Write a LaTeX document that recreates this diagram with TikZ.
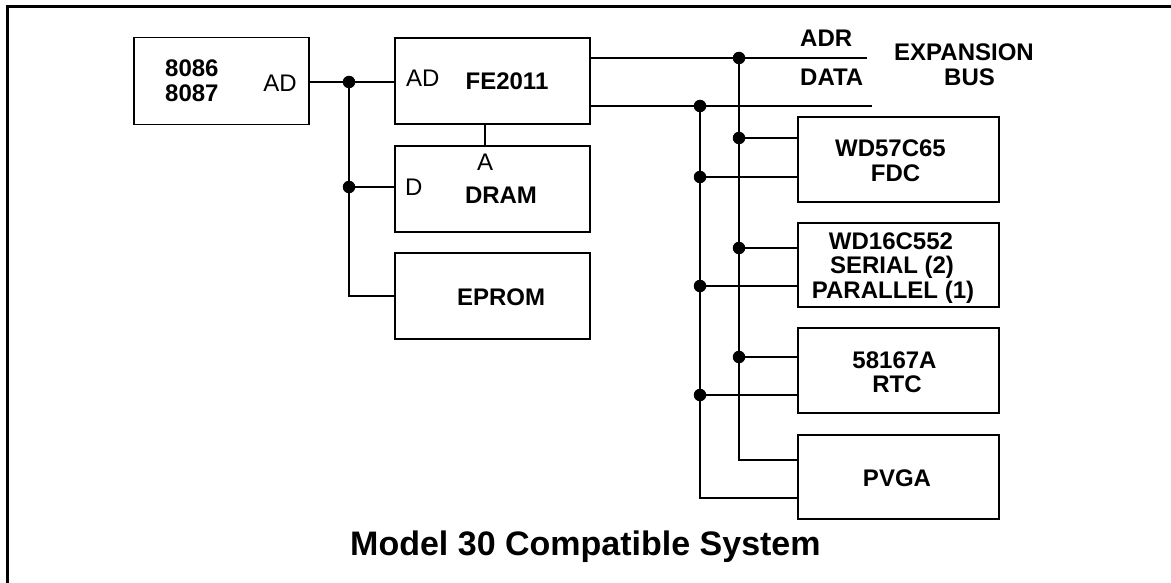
\documentclass[tikz,border=0pt]{standalone}
\usepackage{fontspec}
\setmainfont{Liberation Sans}
\begin{document}
\begin{tikzpicture}[x=1pt,y=-1pt,
  boxnode/.style={draw, line width=1.7pt, inner sep=0pt, rectangle},
  lbl/.style={inner sep=0pt, anchor=base, font=\fontsize{24}{24}\selectfont\bfseries},
  pin/.style={inner sep=0pt, font=\fontsize{24}{24}\selectfont},
  wire/.style={line width=1.5pt},
  dot/.style={circle, fill, inner sep=0pt, minimum size=12.5pt},
  frame/.style={line width=3pt}]
\useasboundingbox (0,0) rectangle (1171,583);
% outer frame (top and left only)
\draw[frame] (7,583) -- (7,7) -- (1171,7);

% boxes
\node[boxnode, minimum width=175pt, minimum height=87pt] (cpu) at (221.5,81) {};
\node[boxnode, minimum width=195pt, minimum height=86pt] (fe) at (492.5,81) {};
\node[boxnode, minimum width=195pt, minimum height=86pt] (dram) at (492.5,189) {};
\node[boxnode, minimum width=195pt, minimum height=86pt] (eprom) at (492.5,296) {};
\node[boxnode, minimum width=201pt, minimum height=85pt] (fdc) at (898.5,159.5) {};
\node[boxnode, minimum width=201pt, minimum height=84pt] (ser) at (898.5,265) {};
\node[boxnode, minimum width=201pt, minimum height=85pt] (rtc) at (898.5,370.5) {};
\node[boxnode, minimum width=201pt, minimum height=84pt] (pvga) at (898.5,477) {};

% texts
\node[lbl, anchor=base west] (t8086) at (165,77) {8086};
\node[lbl, anchor=base west] (t8087) at (165,102) {8087};
\node[pin, anchor=base east] (cpuad) at (297,91.5) {AD};
\node[pin, anchor=base west] (fead) at (406,86.5) {AD};
\node[lbl] (tfe) at (507,90) {FE2011};
\node[pin, anchor=base] (dramA) at (485,170.5) {A};
\node[pin, anchor=base west] (dramD) at (405,195.5) {D};
\node[lbl] (tdram) at (501,204) {DRAM};
\node[lbl] (teprom) at (501,305) {EPROM};
\node[lbl, anchor=base west] (tadr) at (800,47) {ADR};
\node[lbl, anchor=base west] (tdata) at (800,85.5) {DATA};
\node[lbl] (texp) at (964,61) {EXPANSION};
\node[lbl] (tbus) at (969.5,85.3) {BUS};
\node[lbl] (tfdc1) at (890.5,156.7) {WD57C65};
\node[lbl] (tfdc2) at (895.5,181.7) {FDC};
\node[lbl] (tser1) at (891,250) {WD16C552};
\node[lbl] (tser2) at (892,273.5) {SERIAL (2)};
\node[lbl] (tser3) at (893,298.5) {PARALLEL (1)};
\node[lbl] (trtc1) at (894.5,368.3) {58167A};
\node[lbl] (trtc2) at (897,392.7) {RTC};
\node[lbl] (tpvga) at (897,486) {PVGA};
\node[inner sep=0pt, anchor=base west, font=\fontsize{34}{34}\selectfont\bfseries] (title) at (350,555) {Model 30 Compatible System};

% junctions
\node[dot] (j1) at (349,82) {};
\node[dot] (j2) at (349,187) {};
\node[dot] (a0) at (739,58) {};
\node[dot] (d0) at (700,106) {};
\node[dot] (a1) at (739,138) {};
\node[dot] (d1) at (700,177) {};
\node[dot] (a2) at (739,248) {};
\node[dot] (d2) at (700,286) {};
\node[dot] (a3) at (739,357) {};
\node[dot] (d3) at (700,395) {};
\coordinate (a4) at (739,460);
\coordinate (d4) at (700,498);
\coordinate (adrend) at (867,58);
\coordinate (dataend) at (872,106);

% left wires
\draw[wire] (cpu.east |- j1) -- (j1) -- (fe.west |- j1);
\draw[wire] (j1.center) -- (j2.center) -- (dram.west |- j2);
\draw[wire] (j2.center) -- (j2 |- eprom.west) -- (eprom.west);
\draw[wire] (fe.south -| dramA) -- (dram.north -| dramA);

% bus wires
\draw[wire] (fe.east |- a0) -- (a0) -- (adrend);
\draw[wire] (fe.east |- d0) -- (d0) -- (dataend);
\draw[wire] (a0.center) -- (a1.center) -- (a2.center) -- (a3.center) -- (a4) -- (pvga.west |- a4);
\draw[wire] (d0.center) -- (d1.center) -- (d2.center) -- (d3.center) -- (d4) -- (pvga.west |- d4);
\draw[wire] (a1) -- (fdc.west |- a1);
\draw[wire] (d1) -- (fdc.west |- d1);
\draw[wire] (a2) -- (ser.west |- a2);
\draw[wire] (d2) -- (ser.west |- d2);
\draw[wire] (a3) -- (rtc.west |- a3);
\draw[wire] (d3) -- (rtc.west |- d3);
\end{tikzpicture}
\end{document}
